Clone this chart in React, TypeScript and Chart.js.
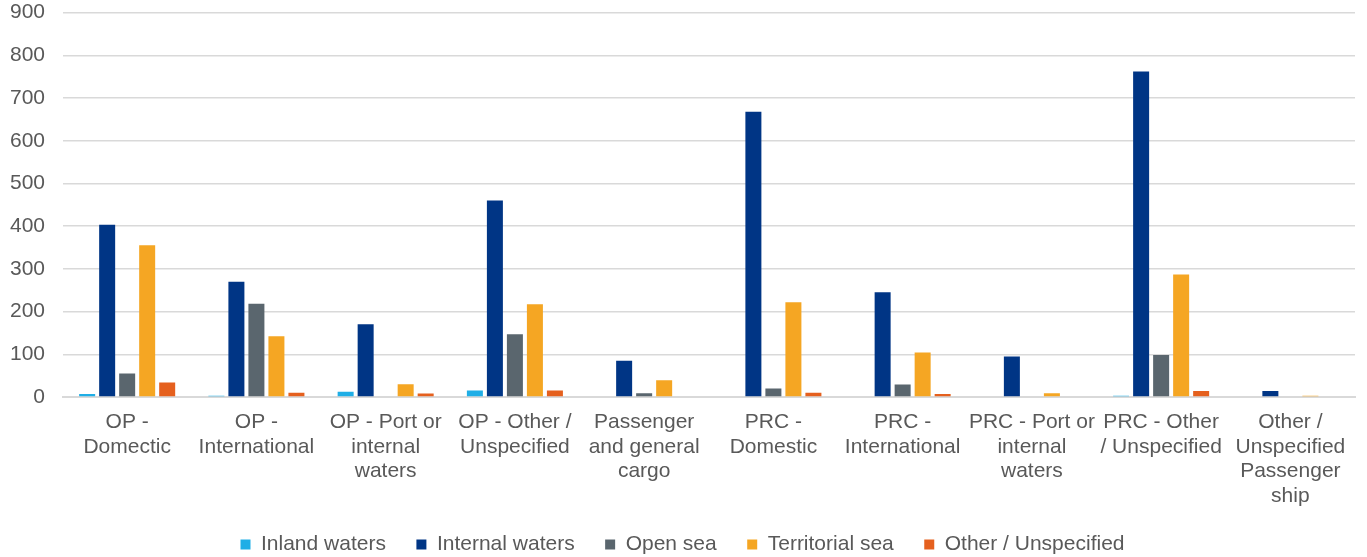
import React, { useEffect, useRef } from "react";
import { Chart, registerables } from "chart.js";

Chart.register(...registerables);

const categories: string[][] = [
  ["OP -", "Domectic"],
  ["OP -", "International"],
  ["OP - Port or", "internal", "waters"],
  ["OP - Other /", "Unspecified"],
  ["Passenger", "and general", "cargo"],
  ["PRC -", "Domestic"],
  ["PRC -", "International"],
  ["PRC - Port or", "internal", "waters"],
  ["PRC - Other", "/ Unspecified"],
  ["Other /", "Unspecified", "Passenger", "ship"],
];

const seriesNames = ["Inland waters", "Internal waters", "Open sea", "Territorial sea", "Other / Unspecified"];
const inlandWaters = [7, 3, 12, 15, 0, 0, 0, 0, 3, 0];
const internalWaters = [403, 270, 170, 460, 85, 668, 245, 95, 762, 14];
const openSea = [55, 218, 0, 147, 9, 20, 29, 0, 98, 0];
const territorialSea = [355, 142, 30, 217, 39, 222, 104, 9, 287, 3];
const otherUnspecified = [34, 10, 8, 15, 0, 10, 7, 0, 14, 0];

const yTicks = [0, 100, 200, 300, 400, 500, 600, 700, 800, 900];

export default function App() {
  const ref = useRef<HTMLCanvasElement | null>(null);
  useEffect(() => {
    if (!ref.current) return;
    const font = "'Liberation Sans', Arial, sans-serif";
    const chart = new Chart(ref.current, {
      type: "bar",
      data: {
        labels: categories,
        datasets: [
          { label: seriesNames[0], data: inlandWaters, backgroundColor: "#1FAEE6" },
          { label: seriesNames[1], data: internalWaters, backgroundColor: "#003585" },
          { label: seriesNames[2], data: openSea, backgroundColor: "#5A666E" },
          { label: seriesNames[3], data: territorialSea, backgroundColor: "#F5A623" },
          { label: seriesNames[4], data: otherUnspecified, backgroundColor: "#E5601E" },
        ],
      },
      options: {
        animation: false,
        responsive: false,
        maintainAspectRatio: false,
        layout: { padding: { left: 10, right: 12, top: 0, bottom: -8 } },
        datasets: { bar: { categoryPercentage: 0.774, barPercentage: 0.8 } },
        plugins: {
          legend: {
            position: "bottom",
            labels: {
              boxWidth: 10,
              boxHeight: 10,
              padding: 13,
              color: "#595959",
              font: { family: font, size: 21 },
              generateLabels: (c: any) => {
                const items = Chart.defaults.plugins.legend.labels.generateLabels(c);
                return items.map((it: any, i: number) => ({
                  ...it,
                  text: i < items.length - 1 ? it.text + "   " : it.text,
                  lineWidth: 0,
                }));
              },
            },
          },
          tooltip: { enabled: false },
        },
        scales: {
          x: {
            grid: { display: false, drawTicks: false },
            border: { display: true, color: "#d9d9d9", width: 2 },
            ticks: {
              color: "#595959",
              font: { family: font, size: 21, lineHeight: 1.167 },
              maxRotation: 0,
              autoSkip: false,
              padding: 13,
            },
          },
          y: {
            min: 0,
            max: 900,
            afterBuildTicks: (axis: any) => {
              axis.ticks = yTicks.map((v) => ({ value: v }));
            },
            grid: { color: "#d9d9d9", lineWidth: 1.5, drawTicks: false },
            border: { display: false },
            ticks: {
              color: "#595959",
              font: { family: font, size: 21 },
              padding: 0,
              callback: (v: any) => String(v) + "   ",
            },
          },
        },
      },
    });
    return () => chart.destroy();
  }, []);
  return (
    <div style={{ position: "absolute", left: 0, top: 0, width: 1367, height: 557, background: "#fff" }}>
      <canvas ref={ref} width={1367} height={557} />
    </div>
  );
}
